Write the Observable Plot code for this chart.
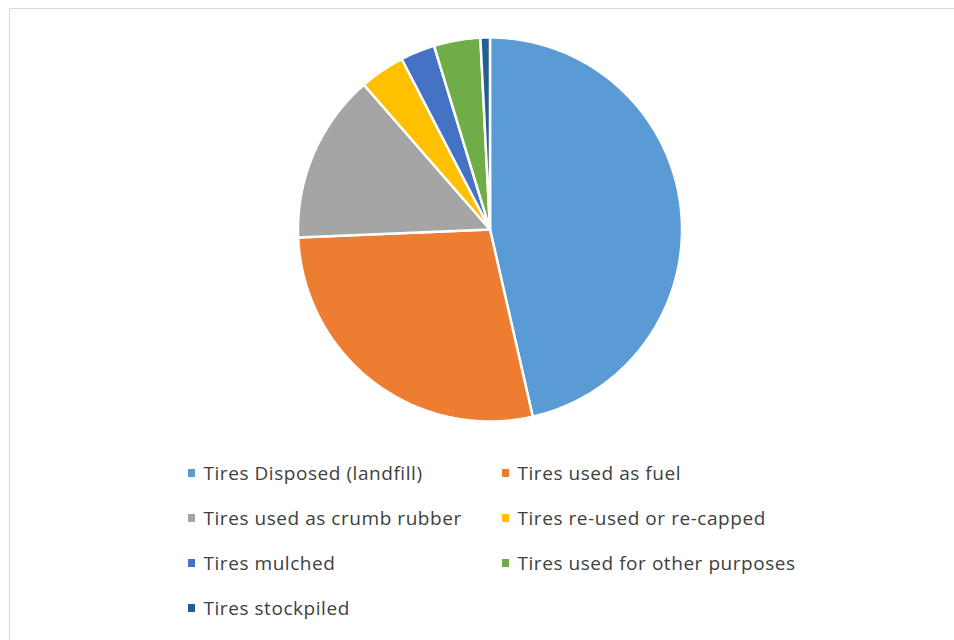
<!DOCTYPE html>
<html>
<head>
<meta charset="utf-8">
<script src="https://cdn.jsdelivr.net/npm/d3@7"></script>
<script src="https://cdn.jsdelivr.net/npm/@observablehq/plot@0.6"></script>
<style>
  html, body { margin: 0; padding: 0; background: #fff; }
  #chart { position: relative; width: 954px; height: 640px; overflow: hidden; }
  #frame { position: absolute; left: 9px; top: 8px; width: 960px; height: 660px; border: 1px solid #d9d9d9; box-sizing: border-box; pointer-events: none; }
  #chart svg text { letter-spacing: 0.55px; }
</style>
</head>
<body>
<div id="chart"><div id="frame"></div></div>
<script>
const categories = [
  "Tires Disposed (landfill)",
  "Tires used as fuel",
  "Tires used as crumb rubber",
  "Tires re-used or re-capped",
  "Tires mulched",
  "Tires used for other purposes",
  "Tires stockpiled"
];
const values = [46.4, 27.9, 14.25, 3.8, 2.9, 3.9, 0.8];
const colors = ["#5b9bd5", "#ed7d31", "#a5a5a5", "#ffc000", "#4472c4", "#70ad47", "#255e91"];

const data = categories.map((name, i) => ({name, value: values[i]}));

// pie geometry
const cx = 489.5, cy = 229, r = 192;
const arcs = d3.pie().sort(null).value(d => d.value)(data);
const points = [];
for (const a of arcs) {
  const n = Math.max(2, Math.ceil((a.endAngle - a.startAngle) / 0.01));
  points.push({name: a.data.name, x: cx, y: cy});
  for (let k = 0; k <= n; k++) {
    const t = a.startAngle + (a.endAngle - a.startAngle) * k / n;
    points.push({name: a.data.name, x: cx + r * Math.sin(t), y: cy - r * Math.cos(t)});
  }
}

// legend layout
const colX = [188, 502];
const rowY = [473, 518, 563, 608];
const legend = categories.map((name, i) => ({
  name,
  x: colX[i % 2],
  y: rowY[Math.floor(i / 2)]
}));

const plot = Plot.plot({
  width: 954,
  height: 640,
  margin: 0,
  x: {domain: [0, 954], range: [0, 954], axis: null},
  y: {domain: [0, 640], range: [0, 640], axis: null},
  color: {domain: categories, range: colors},
  style: {background: "transparent"},
  marks: [
    Plot.line(points, {x: "x", y: "y", z: "name", fill: "name", stroke: "white", strokeWidth: 2.5, curve: "linear-closed", strokeLinejoin: "round"}),
    Plot.rect(legend, {x1: d => d.x, x2: d => d.x + 7, y1: d => d.y - 4, y2: d => d.y + 4, fill: "name"}),
    Plot.text(legend, {x: d => d.x + 15, y: "y", text: "name", textAnchor: "start", fill: "#404040", fontSize: 19, fontFamily: "Open Sans"})
  ]
});
plot.style.position = "absolute";
plot.style.left = "0";
plot.style.top = "0";
document.getElementById("chart").prepend(plot);
</script>
</body>
</html>
